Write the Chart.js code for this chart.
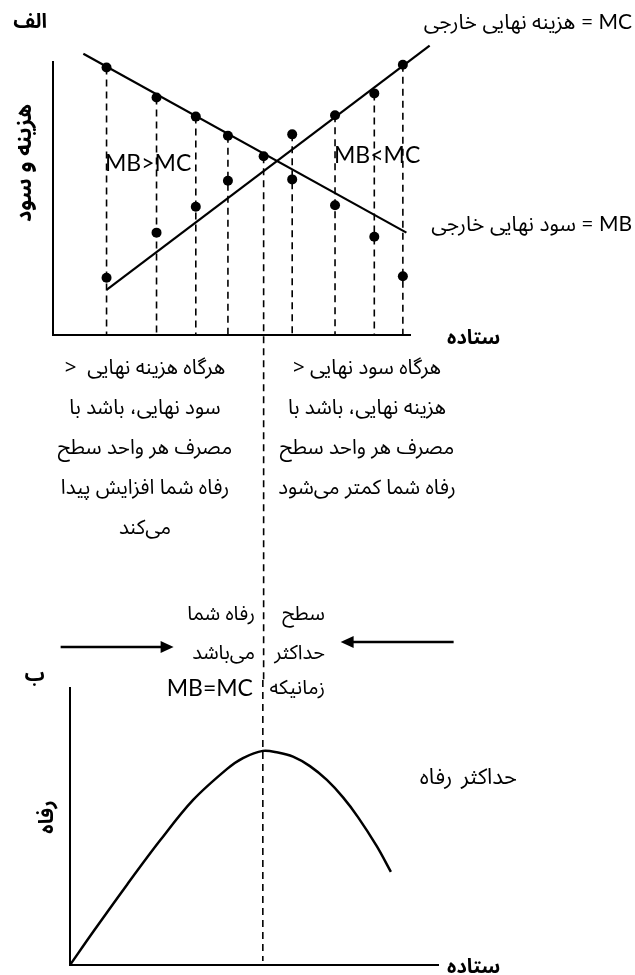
<!DOCTYPE html>
<html lang="fa">
<head>
<meta charset="utf-8">
<title>رفاه و ستاده</title>
<script src="https://cdn.jsdelivr.net/npm/chart.js@4.4.0/dist/chart.umd.min.js"></script>
<style>
  body { margin: 0; background: #fff; }
  #page { position: relative; width: 635px; height: 975px; overflow: hidden; }
  canvas { position: absolute; left: 0; }
  #top { top: 0; }
  #bottom { top: 680px; }
  .t { position: absolute; white-space: nowrap; color: #000; line-height: 1;
       font-family: "Noto Sans Arabic", "DejaVu Sans", sans-serif; font-size: 20px; }
  .b { font-weight: bold; }
  .lat { font-family: Lato, "Open Sans", sans-serif; font-size: 23px; }
  .rtl { direction: rtl; }
  .block { position: absolute; direction: rtl; text-align: center; line-height: 40px;
           font-family: "Noto Sans Arabic", "DejaVu Sans", sans-serif; font-size: 20.5px; }
</style>
</head>
<body>
<div id="page">
  <canvas id="top" width="635" height="680"></canvas>
  <canvas id="bottom" width="635" height="295"></canvas>

  <div class="t b rtl" style="right:588px; top:12px; font-size:20px;">الف</div>
  <div class="t b rtl" style="left:24px; top:163px; font-size:22px; transform:translate(-50%,-50%) rotate(-90deg);">هزینه و سود</div>
  <div class="t" style="right:3px; top:10px; font-size:21px;">هزینه نهایی خارجی <span class="lat" style="font-size:21px;">= MC</span></div>
  <div class="t" style="right:3px; top:212px; font-size:21px;">سود نهایی خارجی <span class="lat" style="font-size:21px;">= MB</span></div>
  <div class="t lat" style="left:105px; top:151px;">MB&gt;MC</div>
  <div class="t lat" style="left:334px; top:143px;">MB&lt;MC</div>
  <div class="t b rtl" style="left:447px; top:328px; font-size:20px;">ستاده</div>

  <div class="block" style="left:45px; width:200px; top:348px;">
    هرگاه هزینه نهایی&nbsp; &lt;<br>
    سود نهایی، باشد با<br>
    مصرف هر واحد سطح<br>
    رفاه شما افزایش پیدا<br>
    می&zwnj;کند
  </div>
  <div class="block" style="left:267px; width:200px; top:348px;">
    هرگاه سود نهایی &lt;<br>
    هزینه نهایی، باشد با<br>
    مصرف هر واحد سطح<br>
    رفاه شما کمتر می&zwnj;شود
  </div>

  <div class="t rtl" style="right:380px; top:604px;">رفاه شما</div>
  <div class="t rtl" style="right:380px; top:643px;">می&zwnj;باشد</div>
  <div class="t lat" style="right:382px; top:676px;">MB=MC</div>
  <div class="t rtl" style="right:310px; top:604px;">سطح</div>
  <div class="t rtl" style="right:310px; top:643px;">حداکثر</div>
  <div class="t rtl" style="right:310px; top:678px;">زمانیکه</div>

  <div class="t b rtl" style="right:590px; top:665px; font-size:20px;">ب</div>
  <div class="t b rtl" style="left:47px; top:817px; font-size:20px; transform:translate(-50%,-50%) rotate(-90deg);">رفاه</div>
  <div class="t rtl" style="right:118px; top:766px; font-size:22px; word-spacing:3px;">حداکثر رفاه</div>
  <div class="t b rtl" style="left:447px; top:957px; font-size:20px;">ستاده</div>
</div>

<script>
var OUTPUT  = [1.5, 2.9, 4.0, 4.9, 5.9, 6.7, 7.9, 9.0, 9.8];
var MB_DOTS = [9.8, 8.7, 8.0, 7.3, 6.55, 5.7, 4.75, 3.6, 2.15];
var MC_DOTS = [2.1, 3.75, 4.7, 5.65, null, 7.35, 8.05, 8.85, 9.9];

// straight marginal benefit / marginal cost lines (end points)
var MB_LINE_X = [0.85, 9.9];
var MB_LINE_Y = [10.3, 3.75];
var MC_LINE_X = [1.5, 10.55];
var MC_LINE_Y = [1.65, 10.6];

// welfare against output (lower panel)
var WELFARE_Q = [0, 0.63, 1.55, 2.45, 3.34, 4.27, 4.70, 5.24, 5.65, 6.06, 6.52, 6.98, 7.42, 7.83, 8.34, 8.72];
var WELFARE   = [0, 1.2, 2.9, 4.5, 5.95, 7.08, 7.47, 7.73, 7.67, 7.52, 7.18, 6.68, 6.05, 5.33, 4.28, 3.36];

Chart.defaults.font.family = "Lato, sans-serif";

function pts(xs, ys) {
    return xs.map(function (x, i) { return {x: x, y: ys[i]}; });
}

var eqIdx = MC_DOTS.indexOf(null);

// dashed drops from the higher dot down to the output axis
var drops = [];
OUTPUT.forEach(function (q, i) {
    if (i === eqIdx) return;
    var top = Math.max(MB_DOTS[i], MC_DOTS[i]);
    drops.push({x: q, y: top}, {x: q, y: 0}, {x: q, y: null});
});

var bareAxis = function (min, max, horiz) {
    return {
        type: "linear",
        min: min, max: max,
        grid: {display: false},
        ticks: {display: false},
        border: {display: true, color: "#000", width: 2},
        afterFit: function (s) { if (horiz) s.height = 0; else s.width = 0; }
    };
};

function dashedDown(ctx, x, y0, y1) {
    ctx.save();
    ctx.strokeStyle = "#000";
    ctx.lineWidth = 1.6;
    ctx.setLineDash([7, 5]);
    ctx.beginPath();
    ctx.moveTo(x, y0);
    ctx.lineTo(x, y1);
    ctx.stroke();
    ctx.restore();
}

function arrow(ctx, xFrom, xTo, y) {
    var dir = xTo > xFrom ? 1 : -1;
    ctx.save();
    ctx.strokeStyle = "#000";
    ctx.fillStyle = "#000";
    ctx.lineWidth = 2.5;
    ctx.beginPath();
    ctx.moveTo(xFrom, y);
    ctx.lineTo(xTo - dir * 12, y);
    ctx.stroke();
    ctx.beginPath();
    ctx.moveTo(xTo, y);
    ctx.lineTo(xTo - dir * 13, y - 6);
    ctx.lineTo(xTo - dir * 13, y + 6);
    ctx.closePath();
    ctx.fill();
    ctx.restore();
}

// equilibrium drop runs past the axis, through the notes, with arrows pointing at it
var eqPlugin = {
    id: "eqDrop",
    afterDatasetsDraw: function (chart) {
        var ctx = chart.ctx;
        var x = chart.scales.x.getPixelForValue(OUTPUT[eqIdx]);
        var y = chart.scales.y.getPixelForValue(MB_DOTS[eqIdx]);
        dashedDown(ctx, x, y, chart.height);
        arrow(ctx, x - 203, x - 90, 647);
        arrow(ctx, x + 190, x + 77, 642);
    }
};

new Chart(document.getElementById("top"), {
    type: "scatter",
    data: {
        datasets: [
            {data: pts(OUTPUT, MB_DOTS), pointRadius: 5, pointBackgroundColor: "#000", pointBorderWidth: 0, order: 0, clip: false},
            {data: pts(OUTPUT, MC_DOTS), pointRadius: 5, pointBackgroundColor: "#000", pointBorderWidth: 0, order: 0, clip: false},
            {data: pts(MB_LINE_X, MB_LINE_Y), showLine: true, borderColor: "#000", borderWidth: 2.2, pointRadius: 0, order: 1, clip: false},
            {data: pts(MC_LINE_X, MC_LINE_Y), showLine: true, borderColor: "#000", borderWidth: 2.2, pointRadius: 0, order: 1, clip: false},
            {data: drops, showLine: true, borderColor: "#000", borderWidth: 1.6, borderDash: [7, 5], pointRadius: 0, order: 2, clip: false}
        ]
    },
    options: {
        responsive: false,
        animation: false,
        devicePixelRatio: 1,
        layout: {padding: {left: 53, top: 62, right: 225, bottom: 345}},
        scales: {
            x: bareAxis(0, 10, true),
            y: bareAxis(0, 10, false)
        },
        plugins: {legend: {display: false}, tooltip: {enabled: false}}
    },
    plugins: [eqPlugin]
});

var peakIdx = WELFARE.indexOf(Math.max.apply(null, WELFARE));

var peakPlugin = {
    id: "peakDrop",
    beforeDatasetsDraw: function (chart) {
        var x = chart.scales.x.getPixelForValue(WELFARE_Q[peakIdx]);
        dashedDown(chart.ctx, x, 0, chart.chartArea.bottom - 4);
    }
};

new Chart(document.getElementById("bottom"), {
    type: "line",
    data: {
        datasets: [{
            data: pts(WELFARE_Q, WELFARE),
            borderColor: "#000",
            borderWidth: 2.5,
            pointRadius: 0,
            tension: 0.35,
            clip: false
        }]
    },
    options: {
        responsive: false,
        animation: false,
        devicePixelRatio: 1,
        layout: {padding: {left: 70, top: 8, right: 197, bottom: 10}},
        scales: {
            x: bareAxis(0, 10, true),
            y: bareAxis(0, 10, false)
        },
        plugins: {legend: {display: false}, tooltip: {enabled: false}}
    },
    plugins: [peakPlugin]
});
</script>
</body>
</html>
